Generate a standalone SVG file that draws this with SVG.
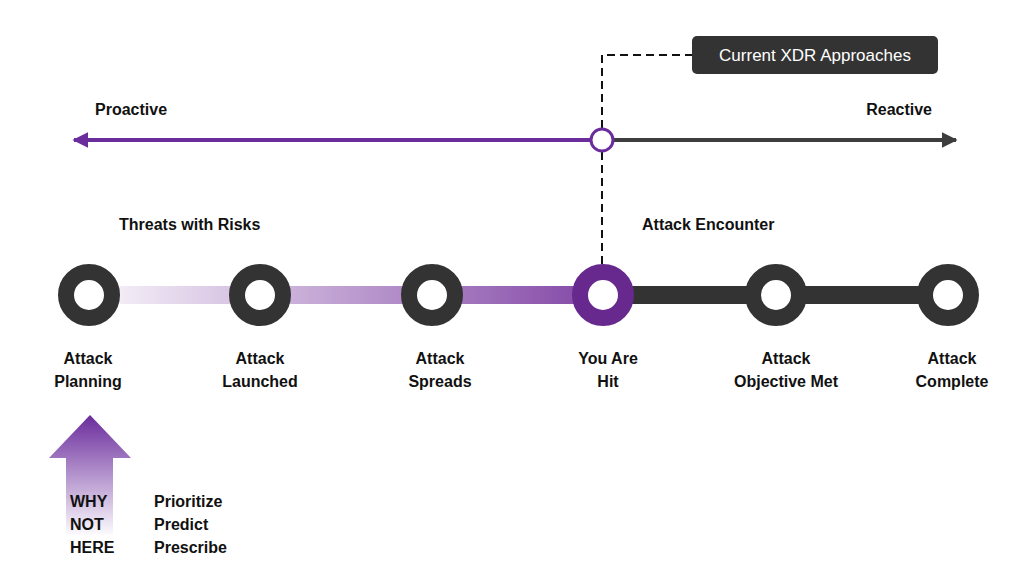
<svg xmlns="http://www.w3.org/2000/svg" width="1024" height="576" viewBox="0 0 1024 576">
<defs>
<style>
.t{font-family:"Liberation Sans",Arial,sans-serif;font-weight:bold;font-size:16px;fill:#111}
.c{text-anchor:middle}
.ring{fill:#fff;stroke:#333;stroke-width:16}
</style>
<linearGradient id="bar" x1="0" y1="0" x2="1" y2="0">
<stop offset="0" stop-color="#7a3aa0" stop-opacity="0.08"/>
<stop offset="1" stop-color="#7a3aa0" stop-opacity="0.9"/>
</linearGradient>
<linearGradient id="up" x1="0" y1="0" x2="0" y2="1">
<stop offset="0" stop-color="#6a2b9c"/>
<stop offset="1" stop-color="#6a2b9c" stop-opacity="0.02"/>
</linearGradient>
<marker id="ap" viewBox="0 0 10 10" refX="9" refY="5" markerWidth="4" markerHeight="4" orient="auto-start-reverse"><path d="M0,0 L10,5 L0,10 z" fill="#6b2d9c"/></marker>
<marker id="ad" viewBox="0 0 10 10" refX="9" refY="5" markerWidth="4" markerHeight="4" orient="auto"><path d="M0,0 L10,5 L0,10 z" fill="#3d3d3d"/></marker>
</defs>
<rect width="1024" height="576" fill="#fff"/>
<g id="connectors">
<line x1="590" y1="140" x2="74" y2="140" stroke="#6b2d9c" stroke-width="4" marker-end="url(#ap)"/>
<line x1="614" y1="140" x2="956" y2="140" stroke="#3d3d3d" stroke-width="4" marker-end="url(#ad)"/>
<path d="M602,128 V55 H692 M602,152 V264" fill="none" stroke="#111" stroke-width="2" stroke-dasharray="8,5"/>
<rect x="110" y="286" width="470" height="18" fill="url(#bar)"/>
<rect x="603" y="286" width="345" height="18" fill="#333"/>
</g>
<g id="pivot"><circle cx="602" cy="140" r="11" fill="#fff" stroke="#6b2d9c" stroke-width="3"/></g>
<g id="xdr">
<rect x="692" y="36" width="246" height="38" rx="5" fill="#333"/>
<text x="815" y="61" class="c" font-family="Liberation Sans,Arial,sans-serif" font-size="17" fill="#fff">Current XDR Approaches</text>
</g>
<g id="labels-top">
<text x="95" y="115" class="t">Proactive</text>
<text x="932" y="115" class="t" text-anchor="end">Reactive</text>
<text x="119" y="230" class="t">Threats with Risks</text>
<text x="642" y="230" class="t">Attack Encounter</text>
</g>
<g id="n1"><circle cx="89" cy="295" r="23" class="ring"/><text x="88" y="364" class="t c">Attack</text><text x="88" y="387" class="t c">Planning</text></g>
<g id="n2"><circle cx="260" cy="295" r="23" class="ring"/><text x="260" y="364" class="t c">Attack</text><text x="260" y="387" class="t c">Launched</text></g>
<g id="n3"><circle cx="432" cy="295" r="23" class="ring"/><text x="440" y="364" class="t c">Attack</text><text x="440" y="387" class="t c">Spreads</text></g>
<g id="n4"><circle cx="603" cy="295" r="23" class="ring" stroke="#68298f" style="stroke:#68298f"/><text x="608" y="364" class="t c">You Are</text><text x="608" y="387" class="t c">Hit</text></g>
<g id="n5"><circle cx="776" cy="295" r="23" class="ring"/><text x="786" y="364" class="t c">Attack</text><text x="786" y="387" class="t c">Objective Met</text></g>
<g id="n6"><circle cx="948" cy="295" r="23" class="ring"/><text x="952" y="364" class="t c">Attack</text><text x="952" y="387" class="t c">Complete</text></g>
<g id="why">
<path d="M90,415 L131,458 H113 V535 H66 V458 H49 Z" fill="url(#up)"/>
<text x="70" y="507" class="t">WHY</text>
<text x="70" y="530" class="t">NOT</text>
<text x="70" y="553" class="t">HERE</text>
<text x="154" y="507" class="t">Prioritize</text>
<text x="154" y="530" class="t">Predict</text>
<text x="154" y="553" class="t">Prescribe</text>
</g>
</svg>
